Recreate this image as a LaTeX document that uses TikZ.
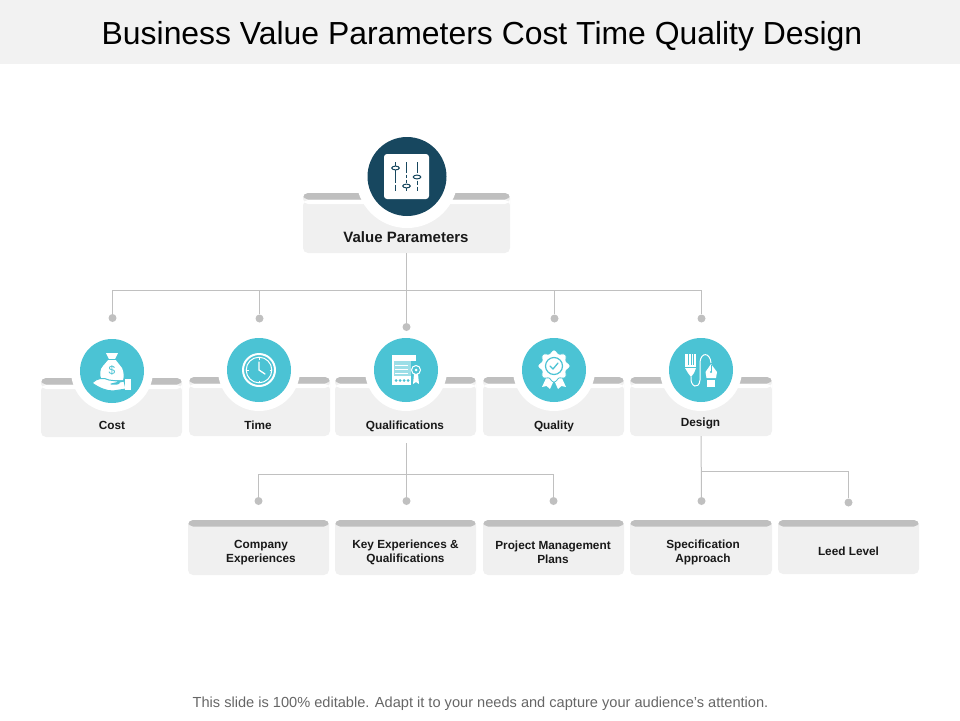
\documentclass[tikz,border=0pt]{standalone}
\usepackage{fontspec}
\setmainfont{Liberation Sans}
\usetikzlibrary{positioning}
\definecolor{bandgray}{HTML}{F2F2F2}
\definecolor{cardgray}{HTML}{F0F0F0}
\definecolor{bargray}{HTML}{BFBFBF}
\definecolor{wiregray}{HTML}{C0C0C0}
\definecolor{navy}{HTML}{17475F}
\definecolor{teal}{HTML}{4BC3D4}
\begin{document}
\begin{tikzpicture}[
     x=1pt,y=-1pt,
     % define styles
     card/.style={
         fill=cardgray,
         rounded corners=5pt,
         inner sep=0pt,
         minimum width=141pt,
         minimum height=#1,
         path picture={
             \fill[bargray] (path picture bounding box.north west) rectangle ([yshift=-6.5pt]path picture bounding box.north east);
         }
     },
     gapcard/.style={
         card=#1,
         postaction={path picture={
             \fill[white] ([yshift=-7pt]path picture bounding box.north west) rectangle ([yshift=-11pt]path picture bounding box.north east);
         }}
     },
     cardtext/.style={
         font=\fontsize{11.8}{14}\selectfont\bfseries,
         align=center,
         inner sep=0pt,
         text=black!90
     },
     halo/.style={circle, fill=white, inner sep=0pt, minimum size=82pt},
     disc/.style={circle, fill=teal, inner sep=0pt, minimum size=64pt},
     dot/.style={circle, fill=wiregray, inner sep=0pt, minimum size=8pt},
     wire/.style={draw=wiregray, line width=1pt},
     ink/.style={draw=white, line width=1.3pt},
     slit/.style={draw=navy, line width=1pt}
]
\useasboundingbox (0,0) rectangle (960,720);
% heading and footer
\node[fill=bandgray, minimum width=960pt, minimum height=64pt, inner sep=0pt] (headband) at (480,32) {};
\node[inner sep=0pt, font=\fontsize{31.9}{36}\selectfont] (heading) at (482,36) {Business Value Parameters Cost Time Quality Design};
\node[text=black!60, inner sep=0pt, font=\fontsize{14.6}{16}\selectfont] (footer) at (480.5,704) {This slide is 100\% editable. Adapt it to your needs and capture your audience's attention.};

% top card
\node[gapcard=60pt, minimum width=207pt] (value) at (406.5,223) {};
\node[halo, minimum size=102pt] (valuehalo) at (407,177) {};
\node[circle, fill=navy, inner sep=0pt, minimum size=79pt] (valuedisc) at (407,176.5) {};
\node[cardtext, font=\fontsize{15}{16}\selectfont\bfseries] (valuetext) at (406,237.5) {Value Parameters};

% second row cards
\node[gapcard=59pt] (cost) at (111.5,407.5) {};
\node[gapcard=59pt] (time) at (259.5,406.5) {};
\node[gapcard=59pt] (qualif) at (405.5,406.5) {};
\node[gapcard=59pt] (quality) at (553.5,406.5) {};
\node[gapcard=59pt, minimum width=142pt] (design) at (701,406.5) {};

\node[halo] (costhalo) at (112,371) {};
\node[halo] (timehalo) at (259,370) {};
\node[halo] (qualifhalo) at (406,370) {};
\node[halo] (qualityhalo) at (554,370) {};
\node[halo] (designhalo) at (701,370) {};
\node[disc] (costdisc) at (112,371) {};
\node[disc] (timedisc) at (259,370) {};
\node[disc] (qualifdisc) at (406,370) {};
\node[disc] (qualitydisc) at (554,370) {};
\node[disc] (designdisc) at (701,370) {};

\node[cardtext] (costtext) at (112,425.5) {Cost};
\node[cardtext] (timetext) at (258,425.5) {Time};
\node[cardtext] (qualiftext) at (405,426) {Qualifications};
\node[cardtext] (qualitytext) at (554,426) {Quality};
\node[cardtext] (designtext) at (700.5,423.5) {Design};

% third row cards
\node[card=55pt] (company) at (258.5,547.5) {};
\node[card=55pt] (keyexp) at (405.5,547.5) {};
\node[card=55pt] (project) at (553.5,547.5) {};
\node[card=55pt, minimum width=142pt] (spec) at (701,547.5) {};
\node[card=54pt] (leed) at (848.5,547) {};

\node[cardtext] (companytext) at (261,553) {Company\\Experiences};
\node[cardtext] (keyexptext) at (405.5,552.5) {Key Experiences \&\\Qualifications};
\node[cardtext] (projecttext) at (553,552.5) {Project Management\\Plans};
\node[cardtext] (spectext) at (703,552.5) {Specification\\Approach};
\node[cardtext] (leedtext) at (848.5,551.5) {Leed Level};

% dots and bus lines
\node[dot] (dcost) at (112.5,318) {};
\node[dot] (dtime) at (259.5,318.5) {};
\node[dot] (dqualif) at (406.5,327) {};
\node[dot] (dquality) at (554.5,318.5) {};
\node[dot] (ddesign) at (701.5,318.5) {};
\node[dot] (dcompany) at (258.5,501) {};
\node[dot] (dkeyexp) at (406.5,501) {};
\node[dot] (dproject) at (553.5,501) {};
\node[dot] (dspec) at (701.5,501) {};
\node[dot] (dleed) at (848.5,502.5) {};
\coordinate (busone) at (407,290.5);
\coordinate (bustwo) at (406,474);
\coordinate (busthree) at (702,471);
\coordinate (qualifend) at (406.5,443);

\draw[wire] (value.south) -- (dqualif);
\draw[wire] (dcost) -- (dcost |- busone) -- (ddesign |- busone) -- (ddesign);
\draw[wire] (dtime) -- (dtime |- busone);
\draw[wire] (dquality) -- (dquality |- busone);
\draw[wire] (qualifend) -- (dkeyexp);
\draw[wire] (dcompany) -- (dcompany |- bustwo) -- (dproject |- bustwo) -- (dproject);
\draw[wire] (design.south) -- (dspec);
\draw[wire] (busthree) -- (dleed |- busthree) -- (dleed);

% sliders icon
\begin{scope}[shift={(406.5,176.5)}]
\fill[white, rounded corners=3pt] (-22.5,-22.5) rectangle (22.5,22.5);
\draw[slit] (-11,-14.5) -- (-11,6) (-11,8) -- (-11,14.5);
\draw[slit] (0,-14.5) -- (0,-4) (0,-2) -- (0,1) (0,3) -- (0,6) (0,11) -- (0,14.5);
\draw[slit] (10.5,-14.5) -- (10.5,-4) (10.5,4) -- (10.5,8) (10.5,10) -- (10.5,14.5);
\draw[slit, fill=white] (-11,-8.5) ellipse (3.8pt and 1.9pt);
\draw[slit, fill=white] (0,9.5) ellipse (3.8pt and 1.9pt);
\draw[slit, fill=white] (10.5,0.5) ellipse (3.8pt and 1.9pt);
\end{scope}

% money bag icon
\begin{scope}[shift={(112,371)}]
\fill[white] (-6,-18) -- (6,-18) -- (3,-12) -- (10,-3) .. controls (12,1) and (12,6) .. (11,9)
      -- (-10,9) .. controls (-13,4) and (-12,-2) .. (-9,-5) -- (-3,-12) -- cycle;
\draw[teal, line width=1pt] (-5,-11.5) -- (5,-11.5);
\node[text=teal, inner sep=0pt, font=\fontsize{12}{12}\selectfont] (costsign) at (0,-1) {\$};
\fill[white, draw=teal, line width=1pt, line join=round] (-20,12) .. controls (-15,7) and (-9,6) .. (-3,9) -- (5,10)
      .. controls (8,10) and (8,13) .. (5,13) -- (-1,13) -- (12,10) -- (14,18) -- (1,20) .. controls (-6,20) and (-13,17) .. (-20,12) -- cycle;
\fill[white] (13,8) rectangle (19,19);
\end{scope}

% clock icon
\begin{scope}[shift={(259,370)}]
\draw[white, line width=2pt] (0,0) circle (16pt);
\draw[white, line width=1pt] (0,0) circle (12.8pt);
\foreach \ang in {0,90,180,270} {
  \draw[white, line width=1pt] (\ang:10.5pt) -- (\ang:13pt);
}
\draw[ink, line cap=round, line join=round] (0,-8) -- (0,0) -- (6,4);
\end{scope}

% certificate icon
\begin{scope}[shift={(406,370)}]
\fill[white, opacity=0.45] (-14,-15) rectangle (5,15);
\fill[white] (-12,-15) rectangle (10,-9);
\fill[white] (-14,-15) rectangle (-12,15);
\fill[white] (-14,6) rectangle (5,15);
\foreach \pos in {-10,-6,-2,2} {
  \fill[teal] (\pos,10.5) circle (1.5pt);
}
\foreach \pos in {-5,-1,3} {
  \draw[white, line width=0.8pt] (-11,\pos) -- (2,\pos);
}
\fill[white] (8,4) -- (12,4) -- (13,14) -- (10,12) -- (7,14) -- cycle;
\draw[white, line width=1pt, fill=teal] (10,0) circle (4.5pt);
\fill[white] (10,0) circle (1.5pt);
\end{scope}

% badge icon
\begin{scope}[shift={(554,370)}]
\fill[white] (-6,4) -- (-12,17) -- (-7.5,16) -- (-4,19) -- (1,8) -- cycle;
\fill[white] (6,4) -- (12,17) -- (7.5,16) -- (4,19) -- (-1,8) -- cycle;
\fill[white, draw=teal, line width=0.8pt] plot[domain=0:360, samples=97, smooth] ({(14.5+1.5*cos(8*\x))*cos(\x)},{-4+(14.5+1.5*cos(8*\x))*sin(\x)}) -- cycle;
\draw[teal, line width=1.2pt] (0,-4) circle (8.5pt);
\draw[teal, line width=1.3pt, line cap=round, line join=round] (-4,-4) -- (-1,-1) -- (4,-7);
\end{scope}

% pen tool icon
\begin{scope}[shift={(701,370)}]
\fill[white] (-16,-16) rectangle (-5,-3);
\foreach \pos in {-13,-10,-7.5} {
  \draw[teal, line width=0.8pt] (\pos,-16) -- (\pos,-5);
}
\fill[white] (-16,-2) -- (-5,-2) -- (-7,3) -- (-10,7) -- (-13,3) -- cycle;
\draw[white, line width=1pt] (-10,7) .. controls (-11,17) and (-2,20) .. (-1,10) -- (-1,-8) .. controls (0,-18) and (9,-18) .. (10,-7);
\fill[white] (10,-6) -- (16,2) -- (15,8) -- (5.5,8) -- (4.5,2) -- cycle;
\fill[teal] (10,2) circle (1.2pt);
\draw[teal, line width=0.7pt] (10,-5) -- (10,2);
\fill[white] (6,10) rectangle (14,17);
\end{scope}
\end{tikzpicture}
\end{document}
